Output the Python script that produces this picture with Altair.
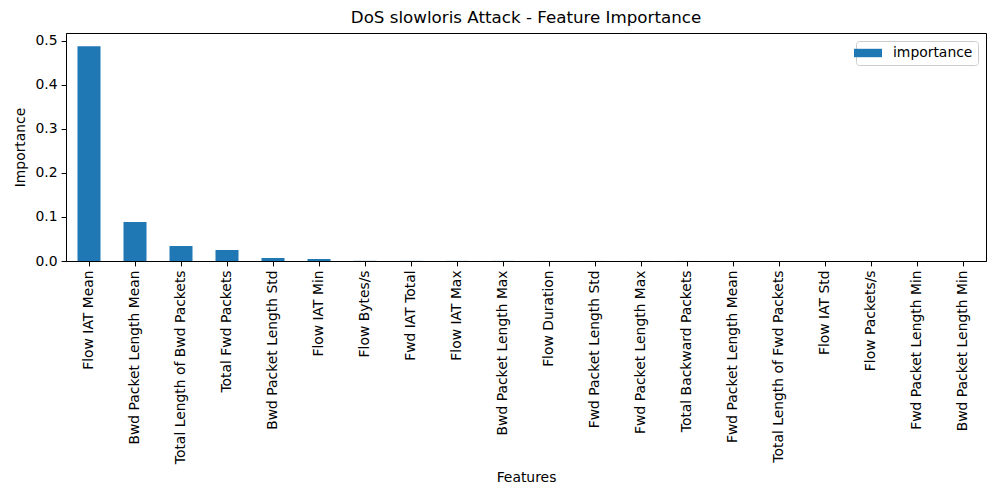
import altair as alt
import pandas as pd

features = [
    "Flow IAT Mean", "Bwd Packet Length Mean", "Total Length of Bwd Packets",
    "Total Fwd Packets", "Bwd Packet Length Std", "Flow IAT Min", "Flow Bytes/s",
    "Fwd IAT Total", "Flow IAT Max", "Bwd Packet Length Max", "Flow Duration",
    "Fwd Packet Length Std", "Fwd Packet Length Max", "Total Backward Packets",
    "Fwd Packet Length Mean", "Total Length of Fwd Packets", "Flow IAT Std",
    "Flow Packets/s", "Fwd Packet Length Min", "Bwd Packet Length Min",
]
importance = [
    0.488, 0.0886, 0.034, 0.025, 0.0068, 0.0045, 0.0004, 0.0003, 0.0002, 0.0002,
    0.0001, 0.0001, 0.0001, 0.0001, 0.00005, 0.00005, 0.00003, 0.00002, 0.00001, 0.00001,
]

df = pd.DataFrame({"feature": features, "importance": importance, "series": "importance"})

FONT = "DejaVu Sans"
blue = "#1f77b4"

chart = alt.Chart(df).mark_bar(color=blue).encode(
    x=alt.X("feature:N", sort=features,
            scale=alt.Scale(paddingInner=0.5, paddingOuter=0.25),
            axis=alt.Axis(title="Features", labelAngle=270, labelFontSize=13.9,
                          titleFontSize=13.9, titleFontWeight="normal", labelPadding=4,
                          tickSize=4.9, titlePadding=9, labelLimit=400)),
    y=alt.Y("importance:Q", scale=alt.Scale(domain=[0, 0.518], nice=False),
            axis=alt.Axis(title="Importance", values=[0, 0.1, 0.2, 0.3, 0.4, 0.5],
                          format=".1f", labelFontSize=13.9, titleFontSize=13.9,
                          titleFontWeight="normal", grid=False, tickSize=4.9,
                          labelPadding=4, titlePadding=8)),
    color=alt.Color("series:N", scale=alt.Scale(range=[blue]),
                    legend=alt.Legend(title=None, orient="top-right", offset=8,
                                      labelFontSize=13.9, fillColor="white",
                                      strokeColor="#cccccc", padding=5, cornerRadius=3,
                                      symbolType="M-2,-0.6L2,-0.6L2,0.6L-2,0.6Z",
                                      symbolSize=196, symbolStrokeWidth=0,
                                      symbolOpacity=1, labelOffset=18)),
).properties(
    width=920, height=228,
    title=alt.Title("DoS slowloris Attack - Feature Importance", fontSize=16.7,
                    fontWeight="normal", font=FONT, offset=6),
    autosize=alt.AutoSizeParams(type="none"),
    padding={"left": 66, "top": 33, "right": 14, "bottom": 239},
).configure(font=FONT).configure_view(
    stroke="black", strokeWidth=1
).configure_axis(
    domainColor="black", tickColor="black", labelColor="black", titleColor="black",
    labelFont=FONT, titleFont=FONT
).configure_legend(labelFont=FONT, labelColor="black")

chart.save("out.html", embed_options={"renderer": "svg", "actions": False})
